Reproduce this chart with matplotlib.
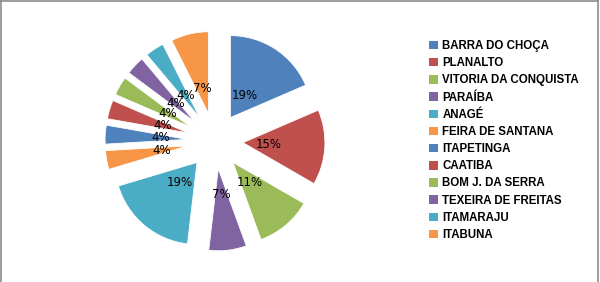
import matplotlib
matplotlib.use("Agg")
import matplotlib.pyplot as plt
from matplotlib.lines import Line2D

categories = ["BARRA DO CHOÇA", "PLANALTO", "VITORIA DA CONQUISTA", "PARAÍBA",
              "ANAGÉ", "FEIRA DE SANTANA", "ITAPETINGA", "CAATIBA",
              "BOM J. DA SERRA", "TEXEIRA DE FREITAS", "ITAMARAJU", "ITABUNA"]
counts = [5, 4, 3, 2, 5, 1, 1, 1, 1, 1, 1, 2]
palette = ["#4F81BD", "#C0504D", "#9BBB59", "#8064A2", "#4BACC6", "#F79646"]
colors = [palette[i % 6] for i in range(len(categories))]

W, H = 600, 282
fig = plt.figure(figsize=(W / 100, H / 100), dpi=100)
ax = fig.add_axes([0, 0, 1, 1])

wedges, texts, autotexts = ax.pie(
    counts, colors=colors, startangle=90, counterclock=False,
    center=(215, H - 141), radius=82, explode=[28] * len(counts),
    autopct=lambda p: f"{p:.0f}%", pctdistance=0.32,
    textprops=dict(fontsize=8.5, color="black", family="DejaVu Sans"),
    wedgeprops=dict(linewidth=0.6, edgecolor="#ffffff"))

ax.set_xlim(0, W)
ax.set_ylim(0, H)
ax.set_aspect("equal")
ax.axis("off")

handles = [plt.Rectangle((0, 0), 1, 1, facecolor=c, edgecolor="none") for c in colors]
leg = fig.legend(handles, categories, loc="upper left",
                 bbox_to_anchor=(429 / W, 1 - 40 / H), frameon=False,
                 prop=dict(family="Liberation Sans", weight="bold", size=8.3),
                 handlelength=0.75, handleheight=0.75, handletextpad=0.4,
                 labelspacing=0.45, borderpad=0, borderaxespad=0)

# outer border (top, left, right)
for (x0, y0, x1, y1) in [(0.5, 0, 0.5, H), (0, H - 0.5, 598, H - 0.5), (597.5, 0, 597.5, H)]:
    fig.add_artist(Line2D([x0 / W, x1 / W], [y0 / H, y1 / H], color="#8c8c8c",
                          linewidth=1.2, transform=fig.transFigure))

fig.savefig("out.png", dpi=100)
